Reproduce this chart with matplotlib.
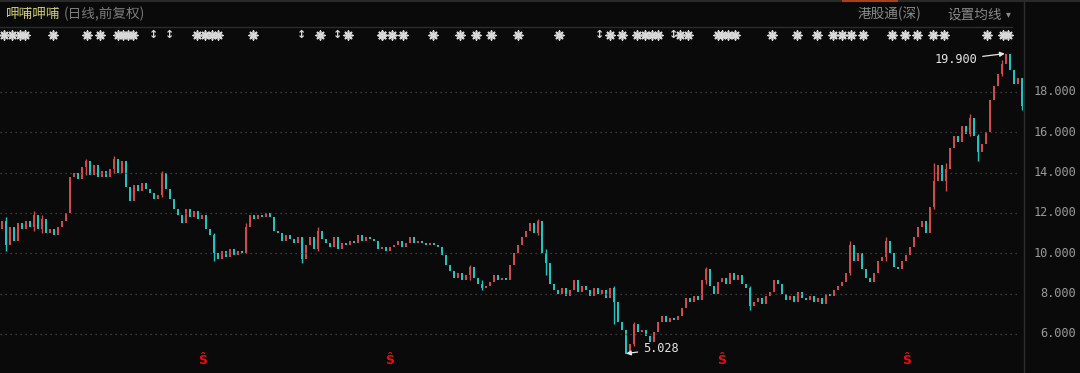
import matplotlib.pyplot as plt
import matplotlib.transforms as mtransforms

plt.rcParams['font.family'] = ['Noto Sans CJK SC', 'DejaVu Sans']

# daily closes (前复权), one per candle
closes = [
    11.6, 10.4, 11.3, 10.6, 11.5, 11.2, 11.6, 11.3, 11.9, 11.2,
    11.7, 11.0, 11.2, 10.9, 11.3, 11.6, 12.0, 13.8, 14.0, 13.7,
    14.3, 14.6, 13.9, 14.4, 13.8, 14.1, 13.8, 14.2, 14.7, 14.0,
    14.6, 13.3, 12.6, 13.4, 13.1, 13.5, 13.2, 13.0, 12.7, 12.9,
    14.0, 13.2, 12.7, 12.2, 11.9, 11.5, 12.2, 11.8, 12.1, 11.7,
    11.9, 11.2, 10.9, 10.0, 9.7, 10.1, 9.8, 10.2, 9.9, 10.1,
    10.0, 11.3, 11.9, 11.7, 11.9, 11.8, 12.0, 11.8, 11.1, 11.0,
    10.6, 10.9, 10.7, 10.5, 10.8, 9.7, 10.4, 10.8, 10.2, 11.1,
    10.7, 10.5, 10.3, 10.8, 10.2, 10.5, 10.4, 10.6, 10.5, 10.9,
    10.6, 10.8, 10.7, 10.6, 10.2, 10.3, 10.1, 10.3, 10.4, 10.6,
    10.3, 10.5, 10.8, 10.5, 10.6, 10.5, 10.4, 10.5, 10.4, 10.3,
    9.9, 9.4, 9.1, 8.8, 9.0, 8.7, 8.9, 9.3, 8.8, 8.5,
    8.3, 8.4, 8.6, 8.9, 8.7, 8.8, 8.7, 9.4, 10.0, 10.4,
    10.8, 11.1, 11.5, 11.0, 11.6, 10.0, 9.5, 8.5, 8.2, 8.0,
    8.3, 7.9, 8.2, 8.7, 8.1, 8.4, 8.2, 7.9, 8.3, 8.0,
    8.2, 7.8, 8.3, 7.6, 6.6, 6.2, 5.028, 5.5, 6.5, 6.1,
    6.2, 5.9, 5.6, 6.1, 6.6, 6.9, 6.6, 6.8, 6.7, 6.9,
    7.3, 7.8, 7.6, 7.9, 7.7, 8.7, 9.2, 8.4, 8.0, 8.6,
    8.8, 8.5, 9.0, 8.7, 8.9, 8.5, 8.3, 7.4, 7.6, 7.8,
    7.5, 7.9, 8.1, 8.7, 8.5, 8.0, 7.7, 7.9, 7.6, 8.1,
    7.8, 7.7, 7.9, 7.6, 7.8, 7.5, 8.0, 7.9, 8.2, 8.4,
    8.6, 9.0, 10.4, 9.6, 10.0, 9.2, 8.8, 8.6, 9.0, 9.6,
    9.8, 10.6, 10.0, 9.3, 9.2, 9.6, 9.9, 10.3, 10.8, 11.3,
    11.6, 11.0, 12.3, 13.6, 14.4, 13.6, 14.2, 15.2, 15.8, 15.5,
    16.3, 15.9, 16.7, 15.8, 15.0, 15.4, 16.0, 17.6, 18.3, 18.9,
    19.4, 19.9, 19.1, 18.4, 18.7, 17.3,
]
first_open = 11.2
opens = [first_open] + closes[:-1]

# visible shadows (candle index, high, low)
wick_idx = [1, 8, 10, 21, 28, 40, 53, 61, 75, 79, 117, 120, 134, 136,
            153, 158, 176, 187, 212, 221, 233, 236, 242, 244, 250, 255]
wick_hi = [11.8, 12.1, 11.9, 14.7, 14.8, 14.1, 11.0, 11.5, 10.8, 11.3, 9.4, 8.7, 11.7, 10.2,
           8.4, 6.6, 9.3, 8.4, 10.6, 10.8, 14.5, 14.5, 16.9, 15.9, 19.6, 18.6]
wick_lo = [10.1, 11.1, 11.0, 13.9, 14.0, 12.8, 9.6, 10.0, 9.5, 10.1, 8.7, 8.2, 10.9, 8.9,
           6.5, 5.4, 8.5, 7.2, 8.9, 9.6, 12.2, 13.1, 15.8, 14.6, 18.8, 17.1]

price_ticks = [6, 8, 10, 12, 14, 16, 18]
high_label, high_idx = '19.900', 251
low_label, low_idx = '5.028', 156

# event markers above the chart (candle index), '↕' ones marked separately
star_idx = [0.5, 2.5, 4.5, 5.8, 12.8, 21.2, 24.5, 29, 30.3, 31.5, 32.8,
            48.8, 50.8, 52.5, 54, 62.8, 79.5, 86.5, 95,
            95, 97.5, 100.2, 107.8, 114.5, 118.5, 122.2, 129, 139.2,
            152, 155, 158.8, 160.8, 162.5, 164, 169.5, 171.5, 179,
            180, 181.5, 183.2, 192.5, 198.8, 203.8, 207.8, 210, 212.2,
            215.2, 222.5, 225.8, 228.8, 232.8, 235.5, 246.2, 250.2, 251.5]
arrow_idx = [37.8, 42, 75, 83.8, 149.5, 167.8]
dividend_idx = [50.2, 97, 180, 226.2]

W, H = 1080, 373
fig = plt.figure(figsize=(W / 100, H / 100), dpi=100)
fig.patch.set_facecolor('#0a0a0a')

# price panel: x 0..1023 px, y 27..373 px (from top)
ax = fig.add_axes([0, 0, 1023 / W, (H - 27) / H])
ax.set_facecolor('#0a0a0a')
ax.set_xlim(-0.5, 255.25)
ax.set_ylim(4.066, 21.22)
for s in ax.spines.values():
    s.set_visible(False)
ax.set_xticks([])
ax.set_yticks([])

for p in price_ticks:
    ax.axhline(p, xmin=0, xmax=0.997, color='#4a4a4a', lw=0.9, ls=(0, (1, 3)))
    ax.text(1.052, p, '%.3f' % p, transform=mtransforms.blended_transform_factory(ax.transAxes, ax.transData),
            ha='right', va='center', color='#9a9a9a', fontsize=8.6, family='DejaVu Sans Mono')

up = set(i for i, (o, c) in enumerate(zip(opens, closes)) if c >= o)
for i, hi, lo in zip(wick_idx, wick_hi, wick_lo):
    ax.vlines(i, lo, hi, color='#d24a45' if i in up else '#1cc4c8', lw=1)

up_x, up_b, up_h, dn_x, dn_b, dn_h = [], [], [], [], [], []
for i, (o, c) in enumerate(zip(opens, closes)):
    lo, hi = min(o, c), max(o, c)
    h = max(hi - lo, 0.06)
    if i in up:
        up_x.append(i); up_b.append(lo); up_h.append(h)
    else:
        dn_x.append(i); dn_b.append(lo); dn_h.append(h)
ax.bar(up_x, up_h, bottom=up_b, width=0.72, color='#d24a45', linewidth=0)
ax.bar(dn_x, dn_h, bottom=dn_b, width=0.72, color='#1cc4c8', linewidth=0)

ax.annotate(high_label, xy=(high_idx - 0.3, closes[high_idx]), xytext=(243.8, 19.6),
            ha='right', va='center', color='#e6e6e6', fontsize=8.6, family='DejaVu Sans Mono',
            arrowprops=dict(arrowstyle='-|>', color='#e6e6e6', lw=0.9, mutation_scale=7,
                            shrinkA=2, shrinkB=0))
ax.annotate(low_label, xy=(low_idx, closes[low_idx]), xytext=(160.3, 5.26),
            ha='left', va='center', color='#e6e6e6', fontsize=8.6, family='DejaVu Sans Mono',
            arrowprops=dict(arrowstyle='-|>', color='#e6e6e6', lw=0.9, mutation_scale=7,
                            shrinkA=2, shrinkB=0))

# event rows
bt = mtransforms.blended_transform_factory(ax.transData, ax.transAxes)
ys = 1 - (35 - 27) / (H - 27)
ax.scatter(star_idx, [ys] * len(star_idx), transform=bt, marker=(8, 2, 0), s=38,
           color='#d8d8d8', linewidths=1.2, clip_on=False, zorder=5)
ax.scatter(star_idx, [ys] * len(star_idx), transform=bt, marker='o', s=10,
           color='#d8d8d8', linewidths=0, clip_on=False, zorder=5)
for xi in arrow_idx:
    ax.text(xi, ys, '↕', transform=bt, ha='center', va='center', color='#d8d8d8',
            fontsize=8, family='DejaVu Sans', fontweight='bold')
yd = (373 - 361) / (H - 27)
for xi in dividend_idx:
    ax.text(xi, yd, 'Ŝ', transform=bt, ha='center', va='center', color='#e01010',
            fontsize=9, family='DejaVu Sans', fontweight='bold')

# header and frame lines
def fx(px):
    return px / W

def fy(py):
    return 1 - py / H

fig.add_artist(plt.Line2D([0, fx(1012)], [fy(26.5)] * 2, color='#2c2c2c', lw=1))
fig.add_artist(plt.Line2D([fx(1023.5)] * 2, [0, 1], color='#2e2e2e', lw=1))
fig.add_artist(plt.Line2D([0, 1], [fy(0.5)] * 2, color='#2a2a2a', lw=1.5))
fig.add_artist(plt.Line2D([fx(843), fx(897)], [fy(0.5)] * 2, color='#a8401c', lw=1.5))

fig.text(fx(6), fy(14), '呷哺呷哺', color='#cfcb6e', fontsize=9.8, va='center', ha='left')
fig.text(fx(64), fy(14), '(日线,前复权)', color='#7c7c7c', fontsize=9.8, va='center', ha='left')
fig.text(fx(858), fy(14), '港股通(深)', color='#8a8a8a', fontsize=9.8, va='center', ha='left')
fig.text(fx(947), fy(14), '设置均线', color='#8a8a8a', fontsize=9.8, va='center', ha='left')
fig.text(fx(1008), fy(14), '▾', color='#8a8a8a', fontsize=7, va='center', ha='center',
         family='DejaVu Sans')

fig.savefig('out.png', dpi=100, facecolor=fig.get_facecolor())
